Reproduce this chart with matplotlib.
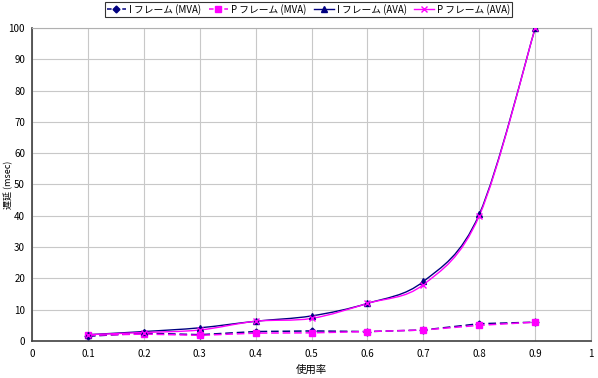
import numpy as np
import matplotlib
matplotlib.use("Agg")
import matplotlib.pyplot as plt
from matplotlib.path import Path
from matplotlib.patches import PathPatch
from matplotlib.lines import Line2D

plt.rcParams['font.family'] = ['Noto Sans CJK JP', 'DejaVu Sans']

usage = [0.1, 0.2, 0.3, 0.4, 0.5, 0.6, 0.7, 0.8, 0.9]
i_mva = [1.5, 2.5, 2.0, 3.0, 3.2, 3.0, 3.5, 5.5, 6.0]
p_mva = [1.8, 2.2, 1.8, 2.5, 2.6, 3.0, 3.5, 5.0, 6.0]
i_ava = [2.0, 3.0, 4.2, 6.3, 8.0, 12.0, 19.0, 40.5, 100.0]
p_ava = [2.0, 2.7, 3.5, 6.3, 7.2, 12.0, 18.0, 40.0, 100.0]
labels = ['I フレーム (MVA)', 'P フレーム (MVA)', 'I フレーム (AVA)', 'P フレーム (AVA)']
xticks = [0, 0.1, 0.2, 0.3, 0.4, 0.5, 0.6, 0.7, 0.8, 0.9, 1]
xtick_labels = ['0', '0.1', '0.2', '0.3', '0.4', '0.5', '0.6', '0.7', '0.8', '0.9', '1']
yticks = list(range(0, 101, 10))

NAVY = '#000080'
MAG = '#FF00FF'


def smooth_path(xs, ys, tension=1/6):
    """Cubic Bezier path through data points (Catmull-Rom style, like Excel smoothing)."""
    xs = np.asarray(xs, float); ys = np.asarray(ys, float)
    n = len(xs)
    verts = [(xs[0], ys[0])]
    codes = [Path.MOVETO]
    for i in range(n - 1):
        x0, y0 = (xs[i - 1], ys[i - 1]) if i > 0 else (xs[i], ys[i])
        x1, y1 = xs[i], ys[i]
        x2, y2 = xs[i + 1], ys[i + 1]
        x3, y3 = (xs[i + 2], ys[i + 2]) if i + 2 < n else (xs[i + 1], ys[i + 1])
        c1 = (x1 + (x2 - x0) * tension, y1 + (y2 - y0) * tension)
        c2 = (x2 - (x3 - x1) * tension, y2 - (y3 - y1) * tension)
        verts += [c1, c2, (x2, y2)]
        codes += [Path.CURVE4] * 3
    return Path(verts, codes)


fig = plt.figure(figsize=(5.98, 3.78), dpi=100)
ax = fig.add_axes([0.0535, 0.098, 0.935, 0.828])

ax.plot(usage, i_mva, color=NAVY, ls=(0, (5, 2.5)), lw=1.1, marker='D', ms=3.5, zorder=3)
ax.plot(usage, p_mva, color=MAG, ls=(0, (5, 2.5)), lw=1.1, marker='s', ms=4, zorder=3)
for ys, col in [(i_ava, NAVY), (p_ava, MAG)]:
    ax.add_patch(PathPatch(smooth_path(usage, ys), fill=False, edgecolor=col, lw=1.0, zorder=3))
ax.plot(usage, i_ava, ls='none', color=NAVY, marker='^', ms=4, zorder=4)
ax.plot(usage, p_ava, ls='none', color=MAG, marker='x', ms=4, mew=1, zorder=4)

ax.set_xlim(0, 1)
ax.set_ylim(0, 100)
ax.set_xticks(xticks)
ax.set_xticklabels(xtick_labels)
ax.set_yticks(yticks)
ax.tick_params(labelsize=7, length=0, pad=6)
ax.tick_params(axis='y', pad=5)
ax.grid(True, color='#c8c8c8', lw=0.8)
ax.set_axisbelow(True)
for s in ['top', 'right']:
    ax.spines[s].set_color('#b0b0b0')
    ax.spines[s].set_linewidth(0.8)
for s in ['left', 'bottom']:
    ax.spines[s].set_color('#404040')
    ax.spines[s].set_linewidth(1.2)

ax.set_xlabel('使用率', fontsize=7.5, labelpad=4)
ax.set_ylabel('遅延 (msec)', fontsize=6.5)
ax.yaxis.set_label_coords(-0.033, 0.5)

handles = [
    Line2D([], [], color=NAVY, ls=(0, (3, 2)), lw=1.1, marker='D', ms=3.5),
    Line2D([], [], color=MAG, ls=(0, (3, 2)), lw=1.1, marker='s', ms=4),
    Line2D([], [], color=NAVY, lw=1.0, marker='^', ms=4),
    Line2D([], [], color=MAG, lw=1.0, marker='x', ms=4),
]
leg = fig.legend(handles, labels, loc='center', bbox_to_anchor=(0.5155, 0.975), ncol=4,
                 fontsize=7, frameon=True, fancybox=False, edgecolor='black',
                 handlelength=2.0, handletextpad=0.3, columnspacing=0.8,
                 borderpad=0.2, borderaxespad=0)
leg.get_frame().set_linewidth(0.8)

fig.savefig('out.png', dpi=100)
